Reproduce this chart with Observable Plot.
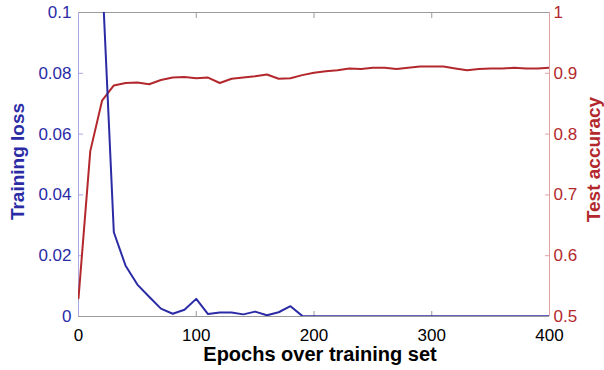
<!DOCTYPE html>
<html>
<head>
<meta charset="utf-8">
<script src="https://cdn.jsdelivr.net/npm/d3@7"></script>
<script src="https://cdn.jsdelivr.net/npm/@observablehq/plot@0.6"></script>
<style>
  html, body { margin: 0; padding: 0; background: #fff; }
  #chart svg { display: block; }
</style>
</head>
<body>
<div id="chart"></div>
<script>
const epochs = [0,10,20,30,40,50,60,70,80,90,100,110,120,130,140,150,160,170,180,190,200,210,220,230,240,250,260,270,280,290,300,310,320,330,340,350,360,370,380,390,400];
const trainingLoss = [1.0,0.4,0.113,0.0277,0.0167,0.0105,0.0065,0.0026,0.0009,0.0022,0.0058,0.0008,0.0013,0.0013,0.0007,0.0016,0.0004,0.0014,0.0034,0.0002,0.0001,0.0001,0.0001,0.0001,0.0001,0.0001,0.0001,0.0001,0.0001,0.0001,0.0001,0.0001,0.0001,0.0001,0.0001,0.0001,0.0001,0.0001,0.0001,0.0001,0.0001];
const testAccuracy = [0.530,0.772,0.855,0.880,0.884,0.885,0.882,0.889,0.893,0.894,0.892,0.893,0.884,0.891,0.893,0.895,0.898,0.891,0.892,0.897,0.901,0.9035,0.905,0.908,0.907,0.909,0.909,0.907,0.909,0.911,0.911,0.911,0.908,0.905,0.907,0.908,0.908,0.909,0.908,0.908,0.909];
const lossTicks = [0,0.02,0.04,0.06,0.08,0.1];
const accTicks = [0.5,0.6,0.7,0.8,0.9,1];
const xTicks = [0,100,200,300,400];
const innerXTicks = [100,200,300];

const blue = "#2b2ba6";
const red = "#b3282c";
const font = "Liberation Sans, Arial, sans-serif";

// map accuracy [0.5,1] onto loss scale [0,0.1]
const accToLoss = a => (a - 0.5) * 0.2;

const lossData = epochs.map((e, i) => ({epoch: e, loss: trainingLoss[i]}));
const accData = epochs.map((e, i) => ({epoch: e, acc: accToLoss(testAccuracy[i])}));

const chart = Plot.plot({
  width: 604,
  height: 370,
  marginLeft: 78,
  marginRight: 55,
  marginTop: 12,
  marginBottom: 54,
  style: {fontFamily: font, fontSize: "17px", background: "#fff"},
  x: {domain: [0, 400], label: null},
  y: {domain: [0, 0.1], label: null},
  marks: [
    // frame lines
    Plot.ruleY([0.1], {stroke: "#9a9a9a", strokeWidth: 1}),
    Plot.ruleY([0], {stroke: "#9a9a9a", strokeWidth: 1}),
    Plot.ruleX([0], {stroke: "#a8a8e2", strokeWidth: 1}),
    Plot.ruleX([400], {stroke: "#e2a2a2", strokeWidth: 1}),
    // inward tick marks
    Plot.axisX(innerXTicks, {anchor: "bottom", tickSize: 5, dy: -5, tickFormat: () => "", stroke: "#9a9a9a", label: null}),
    Plot.axisX(innerXTicks, {anchor: "top", tickSize: 5, dy: 5, tickFormat: () => "", stroke: "#9a9a9a", label: null}),
    Plot.axisY(lossTicks.slice(1, -1), {anchor: "left", tickSize: 5, dx: 5, tickFormat: () => "", stroke: "#a8a8e2", label: null}),
    Plot.axisY(accTicks.slice(1, -1).map(accToLoss), {anchor: "right", tickSize: 5, dx: -5, tickFormat: () => "", stroke: "#e2a2a2", label: null}),
    // tick labels
    Plot.axisX(xTicks, {anchor: "bottom", tickSize: 0, tickPadding: 12, tickFormat: d => String(d), fill: "#000", label: null, fontSize: 17}),
    Plot.axisY(lossTicks, {anchor: "left", tickSize: 0, tickPadding: 7, tickFormat: d => d === 0 ? "0" : String(+d.toFixed(2)), fill: blue, label: null, fontSize: 17}),
    Plot.axisY(accTicks.map(accToLoss), {anchor: "right", tickSize: 0, tickPadding: 4, tickFormat: (d) => String(+(d / 0.2 + 0.5).toFixed(1)), fill: red, label: null, fontSize: 17}),
    // data lines
    Plot.line(accData, {x: "epoch", y: "acc", stroke: red, strokeWidth: 2, clip: true}),
    Plot.line(lossData, {x: "epoch", y: "loss", stroke: blue, strokeWidth: 2, clip: true}),
    // axis titles
    Plot.text(["Epochs over training set"], {frameAnchor: "bottom", textAnchor: "middle", dy: 38, dx: 6, text: d => d, fontWeight: "bold", fontSize: 20, fill: "#000", lineAnchor: "middle"}),
    Plot.text(["Training loss"], {frameAnchor: "left", textAnchor: "middle", dx: -61, dy: -3, rotate: -90, text: d => d, fontWeight: "bold", fontSize: 19, fill: blue}),
    Plot.text(["Test accuracy"], {frameAnchor: "right", textAnchor: "middle", dx: 44, dy: -5, rotate: -90, text: d => d, fontWeight: "bold", fontSize: 19, fill: red})
  ]
});
document.getElementById("chart").appendChild(chart);
</script>
</body>
</html>
